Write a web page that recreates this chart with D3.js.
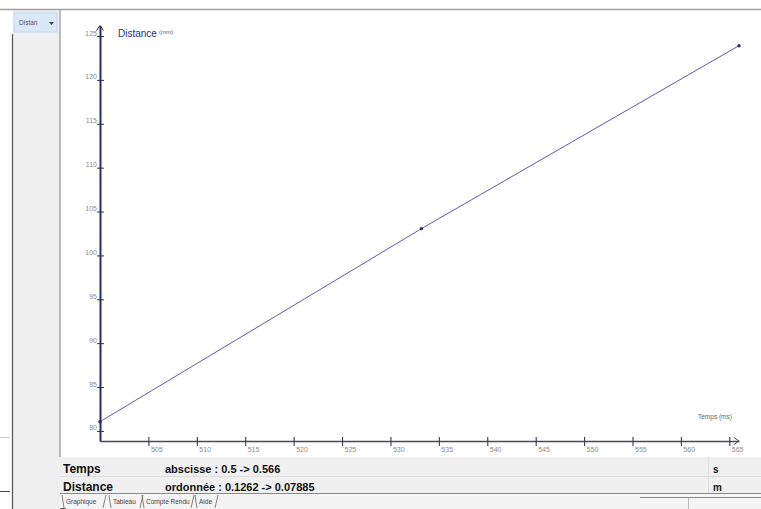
<!DOCTYPE html>
<html>
<head>
<meta charset="utf-8">
<script src="https://cdn.jsdelivr.net/npm/d3@7"></script>
<style>
  html, body { margin: 0; padding: 0; background: #fff; overflow: hidden; }
  svg { display: block; }
</style>
</head>
<body>
<svg id="chart" width="761" height="509"></svg>
<script>
// Measured series: time (ms) and distance (mm)
const tempsMs = [500, 533.2, 566];
const distanceMm = [81.05, 103.05, 123.9];

// Axis extents (abscisse 0.5 -> 0.566 s, ordonnée 0.07885 -> 0.1262 m)
const xDomain = [500, 566];
const yDomain = [78.85, 126.2];

// Tick labels
const xTickValues = [505, 510, 515, 520, 525, 530, 535, 540, 545, 550, 555, 560, 565];
const yTickValues = [80, 85, 90, 95, 100, 105, 110, 115, 120, 125];

// Info panel rows
const infoNames = ["Temps", "Distance"];
const infoRanges = ["abscisse : 0.5 -> 0.566", "ordonnée : 0.1262 -> 0.07885"];
const infoUnits = ["s", "m"];

// Bottom tabs
const tabLabels = ["Graphique", "Tableau", "Compte Rendu", "Aide"];

const svg = d3.select("#chart");
const W = 761, H = 509;

// ---- window chrome ----
svg.append("rect").attr("width", W).attr("height", H).attr("fill", "#fff");
// left side panel
svg.append("rect").attr("x", 13).attr("y", 10).attr("width", 48).attr("height", H - 10).attr("fill", "#efefef");
svg.append("line").attr("x1", 12.5).attr("x2", 12.5).attr("y1", 34).attr("y2", H)
  .attr("stroke", "#555").attr("stroke-width", 1.2);
svg.append("line").attr("x1", 60).attr("x2", 60).attr("y1", 10).attr("y2", 457)
  .attr("stroke", "#a8a8a8").attr("stroke-width", 1.5);
// top border
svg.append("line").attr("x1", 0).attr("x2", W).attr("y1", 9.5).attr("y2", 9.5)
  .attr("stroke", "#a0a0a0").attr("stroke-width", 1.6);
// little marks at far left
svg.append("line").attr("x1", 0).attr("x2", 10).attr("y1", 437.5).attr("y2", 437.5).attr("stroke", "#c8c8c8");
svg.append("line").attr("x1", 0).attr("x2", 10).attr("y1", 491.5).attr("y2", 491.5).attr("stroke", "#444");

// selector button
svg.append("rect").attr("x", 14).attr("y", 13).attr("width", 43).attr("height", 19)
  .attr("fill", "#d9e8f6").attr("stroke", "#c2d6ea");
svg.append("text").attr("x", 19).attr("y", 25).attr("font-family", "Liberation Sans, Arial, sans-serif")
  .attr("font-size", 6.5).attr("fill", "#556").text("Distan");
svg.append("path").attr("d", "M49,22 L54,22 L51.5,25 Z").attr("fill", "#445");

// ---- plot ----
const x = d3.scaleLinear().domain(xDomain).range([100, 739]);
const y = d3.scaleLinear().domain(yDomain).range([441, 25.5]);

const tickFont = "Liberation Sans, Arial, sans-serif";

// x axis
const gx = svg.append("g").attr("transform", `translate(0,${y(yDomain[0])})`)
  .call(d3.axisBottom(x).tickValues(xTickValues).tickSizeOuter(0).tickFormat(d3.format("d")));
gx.select(".domain").attr("stroke", "#4a4a5a").attr("stroke-width", 1.3);
gx.selectAll(".tick line").attr("y1", -4).attr("y2", 5).attr("stroke", "#3a3a4a").attr("stroke-width", 1.1);
gx.selectAll(".tick text").attr("text-anchor", "start").attr("x", 2).attr("y", 11).attr("dy", 0)
  .attr("font-family", tickFont).attr("font-size", 7).attr("fill", "#8a8a8a");
// arrow head at right end of x axis
svg.append("path")
  .attr("d", `M${x(xDomain[1]) - 5},${y(yDomain[0]) - 3.5} L${x(xDomain[1])},${y(yDomain[0])} L${x(xDomain[1]) - 5},${y(yDomain[0]) + 3.5}`)
  .attr("fill", "none").attr("stroke", "#4a4a5a").attr("stroke-width", 1);

// y axis
const gy = svg.append("g").attr("transform", `translate(${x(xDomain[0])},0)`)
  .call(d3.axisLeft(y).tickValues(yTickValues).tickSizeOuter(0).tickFormat(d3.format("d")));
gy.select(".domain").attr("stroke", "#2c2c58").attr("stroke-width", 2);
gy.selectAll(".tick line").attr("x1", -3).attr("x2", 4).attr("stroke", "#2c2c58").attr("stroke-width", 1);
gy.selectAll(".tick text").attr("x", -3).attr("y", -1).attr("dy", 0)
  .attr("font-family", tickFont).attr("font-size", 7).attr("fill", "#8a8a8a");
// arrow head at top of y axis
svg.append("path")
  .attr("d", `M${x(xDomain[0]) - 3.5},${y(yDomain[1]) + 5} L${x(xDomain[0])},${y(yDomain[1])} L${x(xDomain[0]) + 3.5},${y(yDomain[1]) + 5}`)
  .attr("fill", "none").attr("stroke", "#2c2c58").attr("stroke-width", 1);

// axis titles
const yTitle = svg.append("text").attr("x", 118).attr("y", 36.5).attr("font-family", tickFont);
yTitle.append("tspan").attr("font-size", 10).attr("fill", "#2c2c80").text("Distance");
yTitle.append("tspan").attr("font-size", 6).attr("fill", "#555").attr("dx", 2).attr("dy", -2.5).text("(mm)");
svg.append("text").attr("x", 698).attr("y", 419).attr("font-family", tickFont)
  .attr("font-size", 6.5).attr("fill", "#666").text("Temps (ms)");

// data line and markers
const pts = tempsMs.map((t, i) => [t, distanceMm[i]]);
svg.append("path").datum(pts)
  .attr("d", d3.line().x(d => x(d[0])).y(d => y(d[1])))
  .attr("fill", "none").attr("stroke", "#5c5ca6").attr("stroke-width", 1);
svg.selectAll("circle.pt").data(pts).enter().append("circle").attr("class", "pt")
  .attr("cx", d => x(d[0])).attr("cy", d => y(d[1])).attr("r", 1.7).attr("fill", "#2a2a66");

// ---- info panel ----
svg.append("rect").attr("x", 60).attr("y", 457).attr("width", W - 60).attr("height", 37).attr("fill", "#f0f0f0");
svg.append("line").attr("x1", 60).attr("x2", W).attr("y1", 476.5).attr("y2", 476.5).attr("stroke", "#dcdcdc");
svg.append("line").attr("x1", 60).attr("x2", W).attr("y1", 493.5).attr("y2", 493.5).attr("stroke", "#8a8a8a");
svg.append("line").attr("x1", 708.5).attr("x2", 708.5).attr("y1", 457).attr("y2", 493).attr("stroke", "#dcdcdc");

const rowBase = [473, 491];
infoNames.forEach((name, i) => {
  svg.append("text").attr("x", 63).attr("y", rowBase[i]).attr("font-family", tickFont)
    .attr("font-weight", "bold").attr("font-size", 12).attr("fill", "#111").text(name);
  svg.append("text").attr("x", 165).attr("y", rowBase[i]).attr("font-family", tickFont)
    .attr("font-weight", "bold").attr("font-size", 11).attr("fill", "#111").text(infoRanges[i]);
  svg.append("text").attr("x", 713).attr("y", rowBase[i]).attr("font-family", tickFont)
    .attr("font-weight", "bold").attr("font-size", 10).attr("fill", "#111").text(infoUnits[i]);
});

// ---- tabs ----
svg.append("rect").attr("x", 60).attr("y", 494).attr("width", W - 60).attr("height", 15).attr("fill", "#f4f4f4");
svg.append("line").attr("x1", 640).attr("x2", W).attr("y1", 497.5).attr("y2", 497.5).attr("stroke", "#888");
svg.append("line").attr("x1", 688.5).attr("x2", 688.5).attr("y1", 498).attr("y2", H).attr("stroke", "#bbb");
const tabX = [66, 113, 146, 199];
const tabEnd = [101, 138, 189, 213];
tabLabels.forEach((t, i) => {
  svg.append("text").attr("x", tabX[i]).attr("y", 504).attr("font-family", tickFont)
    .attr("font-size", 6.5).attr("fill", "#444").text(t);
  svg.append("path")
    .attr("d", `M${tabX[i] - 4},495 L${tabX[i] - 2},508 M${tabEnd[i] + 2},508 L${tabEnd[i] + 5},495`)
    .attr("fill", "none").attr("stroke", "#666").attr("stroke-width", 0.8);
});
svg.append("line").attr("x1", 60).attr("x2", 66).attr("y1", 508.5).attr("y2", 508.5).attr("stroke", "#666");
</script>
</body>
</html>
